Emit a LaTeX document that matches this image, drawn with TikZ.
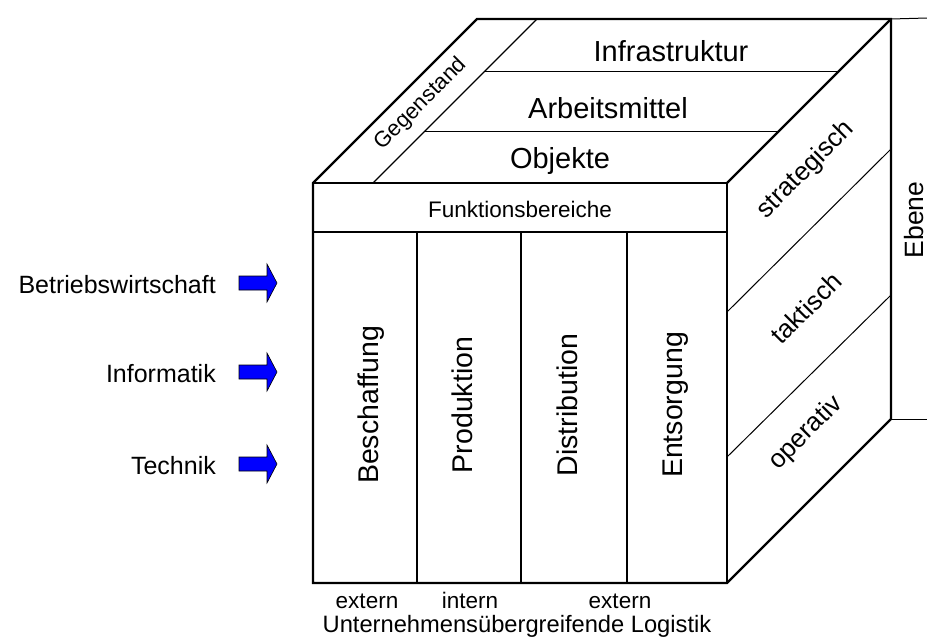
\documentclass[tikz,border=0pt]{standalone}
\usepackage{fontspec}
\setmainfont{Liberation Sans}
\definecolor{arrowblue}{RGB}{0,0,255}
\begin{document}
\begin{tikzpicture}[x=1pt,y=-1pt,
  heavy/.style={line width=2.3pt, line join=miter},
  light/.style={line width=1pt},
  divider/.style={line width=1.3pt},
  lbl/.style={inner sep=0pt, anchor=base},
  toplbl/.style={lbl, font=\fontsize{29}{34}\selectfont},
  vertlbl/.style={lbl, rotate=90, font=\fontsize{28.5}{34}\selectfont},
  midlbl/.style={lbl, font=\fontsize{22.5}{27}\selectfont},
  sidelbl/.style={inner sep=0pt, anchor=base east, font=\fontsize{25}{30}\selectfont},
  facelbl/.style={inner sep=0pt, rotate=45, font=\fontsize{26}{31}\selectfont},
  blockarrow/.pic={
    \filldraw[fill=arrowblue, draw=black, line width=0.6pt, line join=miter]
      (-19,-7) -- (9,-7) -- (9,-19) -- (19,0) -- (9,19) -- (9,7) -- (-19,7) -- cycle;
  }
]
\fill[white] (0,0) rectangle (927,637);
\path[use as bounding box] (0,0) rectangle (927,637);

% cube corners
\coordinate (A) at (313,183);
\coordinate (B) at (727,183);
\coordinate (C) at (727,583);
\coordinate (D) at (313,583);
\coordinate (E) at (477,19);
\coordinate (F) at (891,19);
\coordinate (G) at (891,419);

% top face: "Gegenstand" strip and layers
\coordinate (Ga) at (373,183);
\coordinate (Gb) at (537,19);
\coordinate (L1a) at (485,71);
\coordinate (L1b) at (839,71);
\coordinate (L2a) at (425,131);
\coordinate (L2b) at (779,131);
\draw[line width=1.2pt] (Ga) -- (Gb);
\draw[light] (L1a) -- (L1b);
\draw[light] (L2a) -- (L2b);

% right face: levels
\coordinate (R1a) at (727,312);
\coordinate (R1b) at (891,149);
\coordinate (R2a) at (727,457);
\coordinate (R2b) at (891,295);
\draw[light] (R1a) -- (R1b);
\draw[light] (R2a) -- (R2b);

% front face: header row and columns
\coordinate (H1) at (313,232);
\coordinate (H2) at (727,232);
\draw[line width=2pt] (H1) -- (H2);
\coordinate (V1t) at (417,232); \coordinate (V1b) at (417,583);
\coordinate (V2t) at (521,232); \coordinate (V2b) at (521,583);
\coordinate (V3t) at (627,232); \coordinate (V3b) at (627,583);
\draw[divider] (V1t) -- (V1b);
\draw[divider] (V2t) -- (V2b);
\draw[divider] (V3t) -- (V3b);

% cube outline
\draw[heavy] (A) -- (E) -- (F) -- (G) -- (C) -- (D) -- cycle;
\draw[heavy] (A) -- (B) -- (C);
\draw[heavy] (B) -- (F);

% "Ebene" bracket
\coordinate (Ft) at (927,18);
\coordinate (Gt) at (927,419);
\draw[light] (F) -- (Ft);
\draw[light] (G) -- (Gt);
\node[lbl, rotate=90, font=\fontsize{26.5}{31}\selectfont] (ebene) at (923,220) {Ebene};

% top face labels
\node[toplbl] (infra) at (671,61) {Infrastruktur};
\node[toplbl] (arbeit) at (608,118) {Arbeitsmittel};
\node[toplbl] (objekte) at (560,168) {Objekte};
\node[inner sep=0pt, rotate=45, font=\fontsize{22}{26}\selectfont] (gegen) at (421,104) {Gegenstand};

% right face labels
\node[facelbl] (strat) at (806,170) {strategisch};
\node[facelbl] (takt) at (806,308) {taktisch};
\node[facelbl] (oper) at (806,433) {operativ};

% front face labels
\node[midlbl] (funk) at (520,217) {Funktionsbereiche};
\node[vertlbl] (besch) at (378,405) {Beschaffung};
\node[vertlbl] (prod) at (472,405) {Produktion};
\node[vertlbl] (distr) at (577,405) {Distribution};
\node[vertlbl] (entsorg) at (682,405) {Entsorgung};

% bottom labels
\node[lbl, font=\fontsize{22.5}{27}\selectfont] (ext1) at (367,608) {extern};
\node[lbl, font=\fontsize{22.5}{27}\selectfont] (int) at (470,608) {intern};
\node[lbl, font=\fontsize{22.5}{27}\selectfont] (ext2) at (620,608) {extern};
\node[lbl, font=\fontsize{23.7}{28}\selectfont] (ueber) at (517,632) {Unternehmensübergreifende Logistik};

% disciplines with arrows
\node[sidelbl] (bwl) at (216,293) {Betriebswirtschaft};
\node[sidelbl] (inf) at (216,382) {Informatik};
\node[sidelbl] (tech) at (216,474) {Technik};
\pic (arrbwl) at (258,283) {blockarrow};
\pic (arrinf) at (258,372) {blockarrow};
\pic (arrtech) at (258,464) {blockarrow};
\end{tikzpicture}
\end{document}
